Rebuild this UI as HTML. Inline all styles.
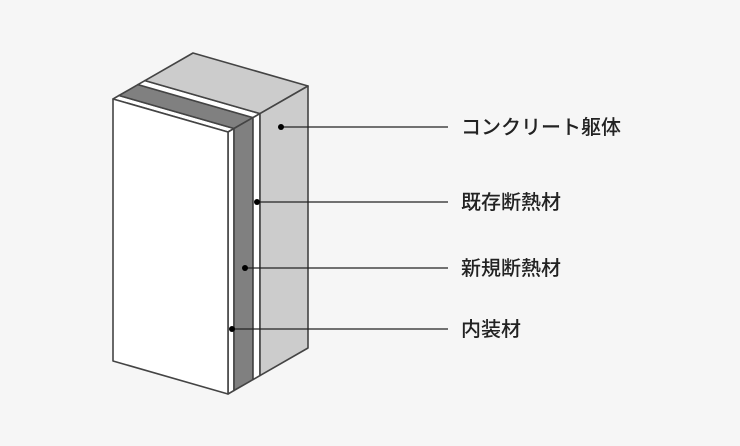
<!DOCTYPE html>
<html><head><meta charset="utf-8"><style>
html,body{margin:0;padding:0;background:#f6f6f6;}
svg{display:block}
text{font-family:"Liberation Sans","Noto Sans CJK JP",sans-serif;font-size:20px;font-weight:500;fill:#222;}
</style></head><body>
<svg width="740" height="446" viewBox="0 0 740 446" xmlns="http://www.w3.org/2000/svg">
<g stroke="#444" stroke-width="1.6" stroke-linejoin="round">
<polygon points="113,99 228,132 234,128.5 119,95.5" fill="#fff"/>
<polygon points="119,95.5 234,128.5 253,117.6 138,84.6" fill="#808080"/>
<polygon points="138,84.6 253,117.6 260,113.6 145,80.6" fill="#fff"/>
<polygon points="145,80.6 260,113.6 308,86 193,53" fill="#ccc"/>
<polygon points="228,132 234,128.5 234,390.5 228,394" fill="#fff"/>
<polygon points="234,128.5 253,117.6 253,379.6 234,390.5" fill="#808080"/>
<polygon points="253,117.6 260,113.6 260,375.6 253,379.6" fill="#fff"/>
<polygon points="260,113.6 308,86 308,348 260,375.6" fill="#ccc"/>
<polygon points="113,99 228,132 228,394 113,361" fill="#fff"/>
</g>
<g stroke="#222" stroke-width="1.3">
<line x1="281" y1="127" x2="448" y2="127"/>
<line x1="257" y1="202" x2="448" y2="202"/>
<line x1="245" y1="268" x2="448" y2="268"/>
<line x1="232" y1="329" x2="448" y2="329"/>
</g>
<g fill="#000">
<circle cx="281" cy="127" r="3"/>
<circle cx="257" cy="202" r="3"/>
<circle cx="245" cy="268" r="3"/>
<circle cx="232" cy="329" r="3"/>
</g>
<text x="461" y="134">コンクリート躯体</text>
<text x="461" y="209">既存断熱材</text>
<text x="461" y="275">新規断熱材</text>
<text x="461" y="336">内装材</text>
</svg>
</body></html>
